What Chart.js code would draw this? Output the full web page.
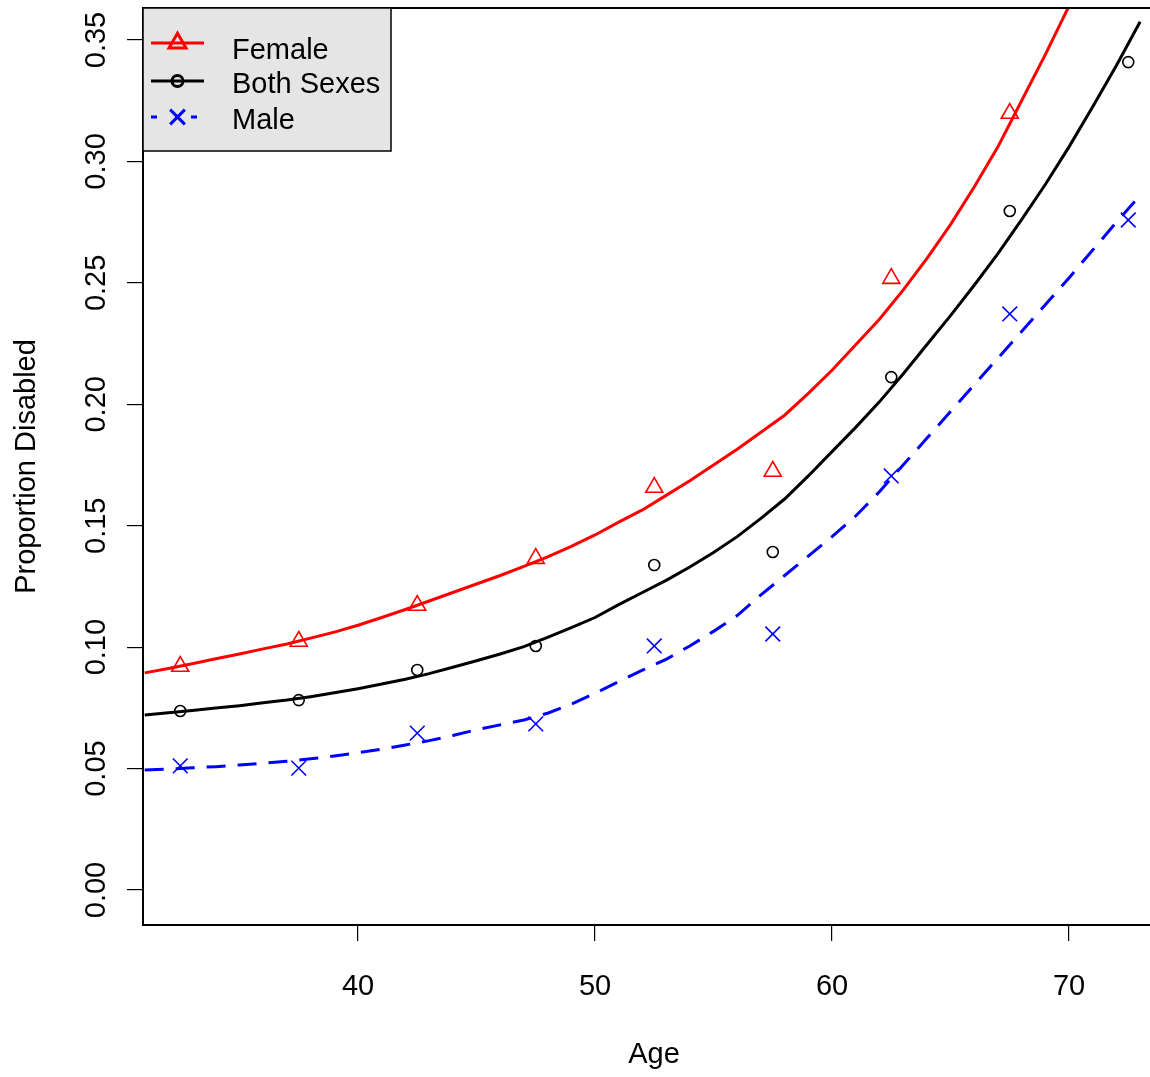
<!DOCTYPE html>
<html>
<head>
<meta charset="utf-8">
<title>Proportion Disabled by Age</title>
<script src="https://cdn.jsdelivr.net/npm/chart.js@4.4.1/dist/chart.umd.min.js"></script>
<style>
  html, body { margin: 0; padding: 0; background: #fff; }
  #wrap { width: 1150px; height: 1077px; overflow: hidden; }
  /* chart.js keeps 12px of room for the markers; pull the canvas up so the box sits at the top */
  canvas { display: block; margin-top: -4px; }
</style>
</head>
<body>
<div id="wrap"><canvas id="chart" width="1177" height="1081"></canvas></div>
<script>
// observed proportions, 5-year age groups (plotted at midpoints)
const ageGroups = [32.5, 37.5, 42.5, 47.5, 52.5, 57.5, 62.5, 67.5, 72.5];
const femaleObs = [0.0921, 0.1024, 0.1172, 0.1365, 0.1658, 0.1724, 0.2518, 0.3198, null];
const bothObs   = [0.0737, 0.0782, 0.0906, 0.1005, 0.1338, 0.1392, 0.2112, 0.2796, 0.3409];
const maleObs   = [0.0511, 0.0502, 0.0646, 0.0684, 0.1005, 0.1054, 0.1705, 0.2372, 0.2759];

// fitted curves, one value per year of age
const fitAges = [31, 32, 33, 34, 35, 36, 37, 38, 39, 40, 41, 42, 43, 44, 45, 46, 47, 48, 49, 50, 51,
                 52, 53, 54, 55, 56, 57, 58, 59, 60, 61, 62, 63, 64, 65, 66, 67, 68, 69, 70, 71, 72, 73];
const femaleFit = [0.0894, 0.0912, 0.0932, 0.0952, 0.0972, 0.0993, 0.1013, 0.1037, 0.1062, 0.1090, 0.1122,
                   0.1155, 0.1190, 0.1225, 0.1260, 0.1295, 0.1333, 0.1372, 0.1415, 0.1462, 0.1515,
                   0.1565, 0.1625, 0.1685, 0.1750, 0.1815, 0.1885, 0.1955, 0.2045, 0.2140, 0.2245,
                   0.2350, 0.2470, 0.2600, 0.2740, 0.2895, 0.3060, 0.3250, 0.3440, 0.3640, 0.3850,
                   0.4070, 0.4300];
const bothFit   = [0.0721, 0.0730, 0.0739, 0.0749, 0.0759, 0.0771, 0.0782, 0.0796, 0.0812, 0.0829, 0.0848,
                   0.0868, 0.0891, 0.0917, 0.0944, 0.0972, 0.1002, 0.1040, 0.1080, 0.1122, 0.1175,
                   0.1225, 0.1275, 0.1330, 0.1390, 0.1455, 0.1530, 0.1610, 0.1705, 0.1805, 0.1905,
                   0.2010, 0.2125, 0.2245, 0.2365, 0.2490, 0.2620, 0.2760, 0.2905, 0.3060, 0.3225,
                   0.3395, 0.3575];
const maleFit   = [0.0494, 0.0498, 0.0503, 0.0508, 0.0515, 0.0522, 0.0530, 0.0540, 0.0552, 0.0565, 0.0580,
                   0.0597, 0.0615, 0.0636, 0.0660, 0.0680, 0.0700, 0.0728, 0.0765, 0.0810, 0.0858,
                   0.0905, 0.0950, 0.1005, 0.1065, 0.1130, 0.1215, 0.1295, 0.1375, 0.1455, 0.1540,
                   0.1640, 0.1750, 0.1860, 0.1970, 0.2080, 0.2190, 0.2300, 0.2410, 0.2520, 0.2635,
                   0.2750, 0.2860];

const xTicks = [40, 50, 60, 70];
const yTicks = [0, 0.05, 0.10, 0.15, 0.20, 0.25, 0.30, 0.35];

const FONT = '"Liberation Sans", Arial, sans-serif';
const FONT_SIZE = 29;
const RED = '#ff0000', BLUE = '#0000ff', BLACK = '#000000';

const pairs = (xs, ys) => xs.map((x, i) => ({ x: x, y: ys[i] }));

const series = [
  { label: 'Female',     color: RED,   obs: femaleObs, fit: femaleFit, style: 'triangle', radius: 9.8,  dash: [] },
  { label: 'Both Sexes', color: BLACK, obs: bothObs,   fit: bothFit,   style: 'circle',   radius: 5.5,  dash: [] },
  { label: 'Male',       color: BLUE,  obs: maleObs,   fit: maleFit,   style: 'crossRot', radius: 10.4, dash: [19, 12] }
];

const datasets = [];
series.forEach(s => {
  datasets.push({
    label: s.label + ' fit',
    data: pairs(fitAges, s.fit),
    showLine: true,
    borderColor: s.color,
    borderWidth: 3,
    borderDash: s.dash,
    pointRadius: 0,
    tension: 0
  });
  datasets.push({
    label: s.label,
    data: pairs(ageGroups, s.obs),
    showLine: false,
    pointStyle: s.style,
    pointRadius: s.radius,
    pointBorderColor: s.color,
    pointBackgroundColor: 'rgba(0,0,0,0)',
    pointBorderWidth: 1.6
  });
});

// box, rotated y labels, axis titles and legend
const decor = {
  id: 'decor',
  afterDraw(chart) {
    const { ctx, chartArea: a, scales } = chart;
    ctx.save();
    ctx.strokeStyle = BLACK;
    ctx.lineWidth = 2;
    ctx.strokeRect(a.left, a.top, a.right - a.left, a.bottom - a.top);

    ctx.fillStyle = BLACK;
    ctx.font = FONT_SIZE + 'px ' + FONT;
    ctx.textAlign = 'center';
    ctx.textBaseline = 'alphabetic';
    yTicks.forEach(v => {
      ctx.save();
      ctx.translate(95, scales.y.getPixelForValue(v));
      ctx.rotate(-Math.PI / 2);
      ctx.fillText(v.toFixed(2), 0, 10);
      ctx.restore();
    });

    ctx.save();
    ctx.translate(25, (a.top + a.bottom) / 2);
    ctx.rotate(-Math.PI / 2);
    ctx.fillText('Proportion Disabled', 0, 10);
    ctx.restore();
    ctx.fillText('Age', (a.left + a.right) / 2, a.bottom + 138);

    // legend
    const lx = a.left, ly = a.top, lw = 248, lh = 143;
    ctx.fillStyle = '#e5e5e5';
    ctx.fillRect(lx, ly, lw, lh);
    ctx.lineWidth = 1.5;
    ctx.strokeRect(lx, ly, lw, lh);
    const rows = [35, 73, 109];
    series.forEach((s, i) => {
      const y = ly + rows[i];
      ctx.strokeStyle = s.color;
      ctx.lineWidth = 3;
      ctx.setLineDash(s.dash.length ? [6, 34] : []);
      ctx.beginPath();
      ctx.moveTo(lx + 8, y);
      ctx.lineTo(lx + 61, y);
      ctx.stroke();
      ctx.setLineDash([]);
      ctx.fillStyle = 'rgba(0,0,0,0)';
      Chart.helpers.drawPoint(ctx, {
        pointStyle: s.style, radius: s.radius, borderWidth: 3, rotation: 0
      }, lx + 34.5, y);
      ctx.fillStyle = BLACK;
      ctx.textAlign = 'left';
      ctx.fillText(s.label, lx + 89, y + (i === 0 ? 16 : 12));
    });
    ctx.restore();
  }
};

new Chart(document.getElementById('chart'), {
  type: 'scatter',
  data: { datasets: datasets },
  options: {
    responsive: false,
    animation: false,
    layout: { padding: 0 },
    plugins: { legend: { display: false }, tooltip: { enabled: false } },
    scales: {
      x: {
        type: 'linear',
        min: 30.928,
        max: 74.05,
        afterBuildTicks: s => { s.ticks = xTicks.map(v => ({ value: v })); },
        afterFit: s => { s.height = 152; },
        grid: { drawOnChartArea: false, drawTicks: true, tickLength: 16, color: BLACK, lineWidth: 1.2 },
        border: { display: false },
        ticks: { color: BLACK, font: { family: FONT, size: FONT_SIZE }, padding: 29, maxRotation: 0, autoSkip: false,
                 callback: v => String(v) }
      },
      y: {
        type: 'linear',
        min: -0.01441,
        max: 0.36318,
        afterBuildTicks: s => { s.ticks = yTicks.map(v => ({ value: v })); },
        afterFit: s => { s.width = 143; },
        grid: { drawOnChartArea: false, drawTicks: true, tickLength: 16, color: BLACK, lineWidth: 1.2 },
        border: { display: false },
        ticks: { display: false }
      }
    }
  },
  plugins: [decor]
});
</script>
</body>
</html>
